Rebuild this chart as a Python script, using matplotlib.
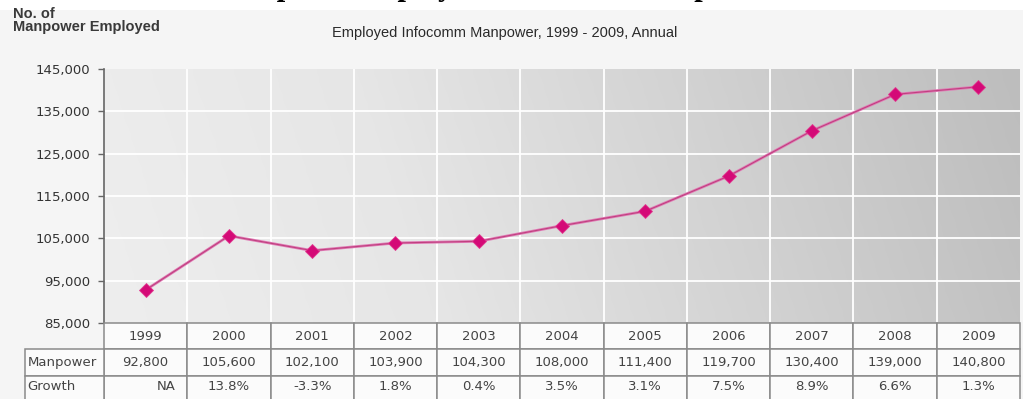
import numpy as np
import matplotlib
matplotlib.use("Agg")
import matplotlib.pyplot as plt
from matplotlib.colors import LinearSegmentedColormap
from matplotlib.patches import Rectangle

# Data
years = ["1999", "2000", "2001", "2002", "2003", "2004", "2005", "2006", "2007", "2008", "2009"]
manpower = [92800, 105600, 102100, 103900, 104300, 108000, 111400, 119700, 130400, 139000, 140800]
growth = ["NA", "13.8%", "-3.3%", "1.8%", "0.4%", "3.5%", "3.1%", "7.5%", "8.9%", "6.6%", "1.3%"]
y_ticks = [85000, 95000, 105000, 115000, 125000, 135000, 145000]

W, H = 1023, 399
fig = plt.figure(figsize=(W / 100, H / 100), dpi=100, facecolor="white")
plt.rcParams["font.family"] = ["Liberation Sans", "DejaVu Sans"]
BODY = dict(family="DejaVu Sans", fontsize=9.5, color="#444444")


def fx(px):
    return px / W


def fy(py):
    return 1 - py / H


# light panel behind the chart
fig.patches.append(Rectangle((0, 0), 1, fy(10), transform=fig.transFigure,
                             facecolor="#f5f5f5", edgecolor="none", zorder=-10))

# page heading (mostly above the top edge)
fig.text(fx(224), fy(-5), "Graph 1: Employed Infocomm Manpower, 1999 - 2009",
         family="Liberation Serif", weight="bold", fontsize=22, color="black",
         ha="left", va="baseline")

fig.text(fx(13), fy(7), "No. of\nManpower Employed", fontsize=10.5, weight="bold",
         color="#3a3a3a", ha="left", va="top", linespacing=0.95)
fig.text(fx(505), fy(33), "Employed Infocomm Manpower, 1999 - 2009, Annual",
         fontsize=10.5, color="#2a2a2a", ha="center", va="center")

L, R, T, B = 104, 1020, 69, 323
ax = fig.add_axes([fx(L), fy(B), fx(R - L), (B - T) / H])
n = len(years)
x = np.arange(n)
ax.set_xlim(-0.5, n - 0.5)
ax.set_ylim(85000, 145000)

# gradient background
cmap = LinearSegmentedColormap.from_list("bg", ["#eeeeee", "#e6e6e6", "#d2d2d2", "#bdbdbd"])
gx = np.linspace(0, 1, 400)
gy = np.linspace(0, 1, 50)
GX, GY = np.meshgrid(gx, gy)
grad = GX * 0.92 + (1 - GY) * 0.08
ax.imshow(grad, extent=(-0.5, n - 0.5, 85000, 145000), aspect="auto",
          cmap=cmap, origin="upper", zorder=0, interpolation="bicubic")

for yv in y_ticks[1:-1]:
    ax.axhline(yv, color="white", lw=1.3, zorder=1)
for xv in np.arange(0.5, n - 0.5, 1):
    ax.axvline(xv, color="white", lw=1.3, zorder=1)

ax.plot(x, manpower, color="#e07ab5", lw=2.0, zorder=2, solid_capstyle="round")
ax.plot(x, manpower, color="#c0407f", lw=0.8, zorder=3)
ax.plot(x, manpower, ls="none", marker="D", ms=7, color="#d40a77",
        markeredgecolor="#e03a8f", markeredgewidth=0.6, zorder=4)

ax.set_yticks(y_ticks)
ax.set_yticklabels([f"{v:,}" for v in y_ticks], family="DejaVu Sans", fontsize=9.5,
                   color="#333333")
ax.set_xticks([])
ax.tick_params(axis="y", direction="out", length=4, width=1, color="#666666", pad=6)
for s in ["top", "right", "bottom"]:
    ax.spines[s].set_visible(False)
ax.spines["left"].set_color("#666666")
ax.spines["left"].set_linewidth(1.2)

# data table underneath
tax = fig.add_axes([fx(L), 0, fx(R - L), (H - B) / H])
tax.set_xlim(-0.5, n - 0.5)
tax.set_ylim(H, B)
tax.axis("off")
col_w = (R - L) / n
hdr_left = -0.5 - (L - 25) / col_w
rows = [(323, 349), (349, 376), (376, 410)]
edge = "#8a8a8a"
for i in range(n):
    for r, (y0, y1) in enumerate(rows):
        tax.add_patch(Rectangle((i - 0.5, y0), 1, y1 - y0, facecolor="#fbfbfb",
                                edgecolor=edge, lw=1.1, clip_on=False))
    tax.text(i, 336, years[i], ha="center", va="center", **BODY)
    tax.text(i, 362.5, f"{manpower[i]:,}", ha="center", va="center", **BODY)
    gx_pos = i + 0.25 if growth[i] == "NA" else i
    tax.text(gx_pos, 387, growth[i], ha="center", va="center", **BODY)
for r, (y0, y1) in enumerate(rows[1:]):
    tax.add_patch(Rectangle((hdr_left, y0), -0.5 - hdr_left, y1 - y0, facecolor="#fbfbfb",
                            edgecolor=edge, lw=1.1, clip_on=False))
tax.text(hdr_left + 0.03, 362.5, "Manpower", ha="left", va="center", clip_on=False, **BODY)
tax.text(hdr_left + 0.03, 387, "Growth", ha="left", va="center", clip_on=False, **BODY)

fig.savefig("out.png", dpi=100, facecolor=fig.get_facecolor())
